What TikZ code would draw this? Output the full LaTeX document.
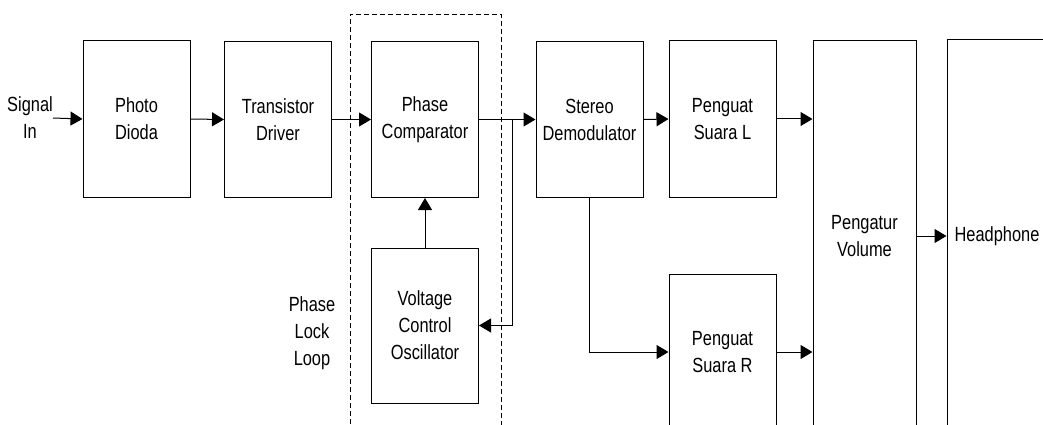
\documentclass[tikz,border=0pt]{standalone}
\usepackage{fontspec}
\setmainfont{Liberation Sans}[FakeStretch=0.8]
\usetikzlibrary{arrows.meta,positioning}
\begin{document}
\begin{tikzpicture}[x=1pt,y=-1pt,
  blk/.style={draw,line width=1pt,minimum width=107pt,minimum height=156pt,inner sep=0pt,align=center,font=\fontsize{20.5}{27}\selectfont},
  lbl/.style={inner sep=0pt,align=center,font=\fontsize{20.5}{27}\selectfont},
  conn/.style={line width=1pt,-{Triangle[length=12pt,width=14pt]}},
  wire/.style={line width=1pt},
  pll/.style={draw,line width=0.8pt,dash pattern=on 5pt off 3pt}]
\useasboundingbox (0,0) rectangle (1043,425);
\clip (0,0) rectangle (1043,425);
\fill[white] (0,0) rectangle (1043,425);
% dashed PLL boundary
\draw[pll] (350,440) -- (350,14) -- (501,14) -- (501,440);
% blocks
\node[blk] (photo) at (136.5,119) {Photo\\Dioda};
\node[blk] (driver) at (278,119.5) {Transistor\\Driver};
\node[blk] (comp) at (425,119.5) {Phase\\Comparator};
\node[blk,minimum height=155pt] (vco) at (425,325.5) {Voltage\\Control\\Oscillator};
\node[blk] (demod) at (589.5,119.5) {Stereo\\Demodulator};
\node[blk] (suaraL) at (722.5,119) {Penguat\\Suara L};
\node[blk] (suaraR) at (722.5,352) {Penguat\\Suara R};
\node[blk,minimum width=103pt,minimum height=390pt] (vol) at (864.5,236) {Pengatur\\Volume};
\node[draw,line width=1pt,minimum width=110pt,minimum height=392pt,inner sep=0pt] (head) at (1002,236) {};
\node[lbl] (headtxt) at (997,236) {Headphone};
% labels
\node[lbl] (sig) at (30,118) {Signal\\In};
\node[lbl] (pllL) at (312,333) {Phase\\Lock\\Loop};
% connectors
\draw[conn] (sig.east) -- (photo.west);
\draw[conn] (photo.east) -- (driver.west);
\draw[conn] (driver.east) -- (comp.west);
\draw[conn] (comp.east) -- (demod.west);
\coordinate (j) at (512,119.5);
\draw[conn] (j) |- (vco.east);
\draw[conn] (vco.north) -- (comp.south);
\draw[conn] (demod.east) -- (suaraL.west);
\draw[conn] (suaraL.east) -- (suaraL.east -| vol.west);
\draw[conn] (demod.south) |- (suaraR.west);
\draw[conn] (suaraR.east) -- (suaraR.east -| vol.west);
\draw[conn] (vol.east) -- (head.west);
\end{tikzpicture}
\end{document}
